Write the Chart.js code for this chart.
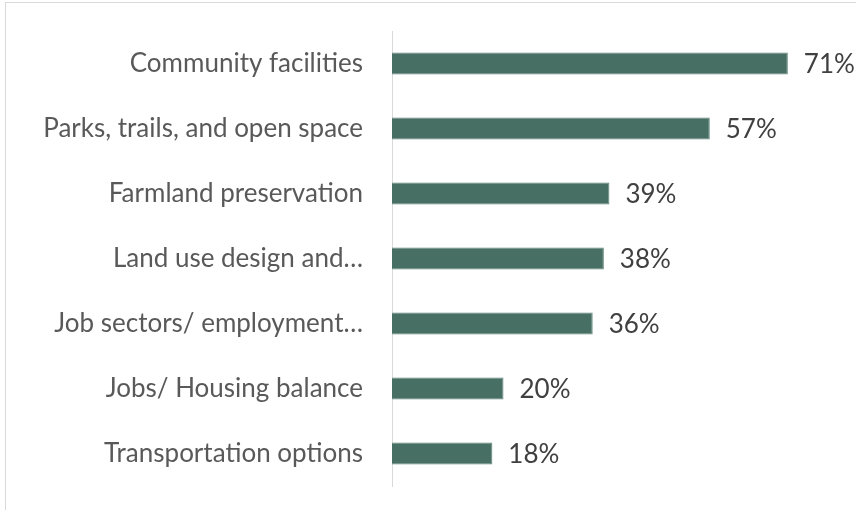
<!DOCTYPE html>
<html>
<head>
<meta charset="utf-8">
<script src="https://cdn.jsdelivr.net/npm/chart.js@4/dist/chart.umd.min.js"></script>
<style>
  html, body { margin: 0; padding: 0; background: #fff; overflow: hidden; }
  #frame { position: absolute; left: 5px; top: 2px; width: 900px; height: 600px; border: 1px solid #d9d9d9; box-sizing: border-box; }
  #wrap { position: absolute; left: 0; top: 0; width: 856px; height: 510px; }
</style>
</head>
<body>
<div id="frame"></div>
<div id="wrap"><canvas id="chart" width="856" height="510"></canvas></div>
<script>
// Share of respondents naming each topic
const categories = [
  'Community facilities',
  'Parks, trails, and open space',
  'Farmland preservation',
  'Land use design and…',
  'Job sectors/ employment…',
  'Jobs/ Housing balance',
  'Transportation options'
];
const shares = [71, 57, 39, 38, 36, 20, 18];

const FONT = 'Lato, "Open Sans", sans-serif';

// Percentage text to the right of each bar
const valueLabels = {
  id: 'valueLabels',
  afterDatasetsDraw(chart) {
    const { ctx } = chart;
    const meta = chart.getDatasetMeta(0);
    ctx.save();
    ctx.font = '26px ' + FONT;
    ctx.fillStyle = '#404040';
    ctx.textAlign = 'left';
    ctx.textBaseline = 'middle';
    meta.data.forEach((bar, i) => {
      ctx.fillText(shares[i] + '%', bar.x + 16, bar.y + 1);
    });
    ctx.restore();
  }
};

new Chart(document.getElementById('chart'), {
  type: 'bar',
  data: {
    labels: categories,
    datasets: [{
      data: shares,
      backgroundColor: '#476f64',
      borderColor: '#5f8479',
      borderWidth: 1,
      barPercentage: 0.34,
      categoryPercentage: 1
    }]
  },
  options: {
    indexAxis: 'y',
    responsive: false,
    animation: false,
    layout: { padding: { left: 0, right: 18, top: 31, bottom: 24 } },
    plugins: { legend: { display: false }, tooltip: { enabled: false } },
    scales: {
      x: {
        display: false,
        min: 0,
        max: 80
      },
      y: {
        afterFit(scale) {
          scale.width = 392;
          scale.paddingTop = 0;
          scale.paddingBottom = 0;
        },
        grid: { display: false, drawTicks: false },
        border: { display: true, color: '#d9d9d9', width: 1 },
        ticks: {
          padding: 29,
          color: '#595959',
          font: { family: FONT, size: 26 }
        }
      }
    }
  },
  plugins: [valueLabels]
});
</script>
</body>
</html>
